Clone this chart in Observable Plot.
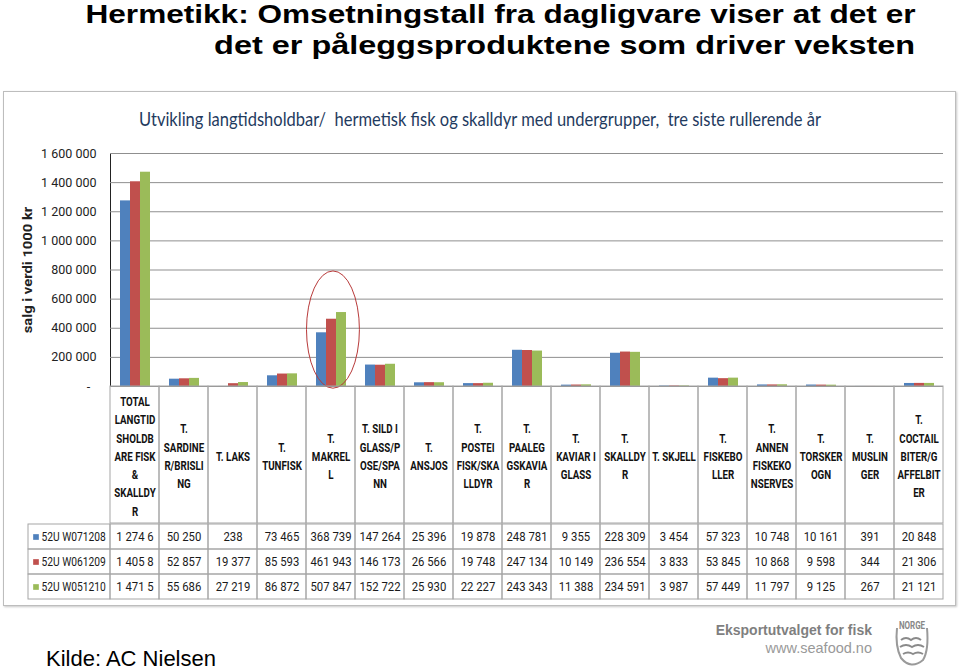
<!DOCTYPE html>
<html><head><meta charset="utf-8">
<script src="https://cdn.jsdelivr.net/npm/d3@7"></script>
<script src="https://cdn.jsdelivr.net/npm/@observablehq/plot@0.6"></script>
<style>
html,body{margin:0;padding:0;background:#fff}
body{width:959px;height:671px;position:relative;overflow:hidden;font-family:"Liberation Sans",Arial,sans-serif}
.tl{position:absolute;right:44px;font-weight:bold;font-size:26px;line-height:26px;color:#000;white-space:nowrap;transform-origin:100% 50%}
#frame{position:absolute;left:3px;top:91px;width:951px;height:513px;border:1px solid #bdbdbd;box-shadow:1px 1px 2px #c8c8c8}
#ctitle{position:absolute;left:139px;top:109px;font-family:Lato,Roboto,sans-serif;font-size:19px;line-height:19px;color:#1f3b60;white-space:nowrap;transform-origin:0 0}
#ylab{position:absolute;left:27px;top:270px;font-family:Roboto,sans-serif;font-weight:bold;font-size:13.5px;color:#222;white-space:nowrap}
.plt{position:absolute}
.plt svg{overflow:visible}
#source{position:absolute;left:46px;top:648px;font-size:22px;line-height:22px;color:#000}
#eks{position:absolute;right:87px;top:623px;font-size:14px;line-height:14px;font-weight:bold;color:#7f7f7f;white-space:nowrap}
#web{position:absolute;right:87px;top:641px;font-size:14.5px;line-height:14px;color:#999;white-space:nowrap}
#logo{position:absolute;left:891px;top:616px}
</style></head>
<body>
<div id="t1" class="tl" style="top:1px">Hermetikk: Omsetningstall fra dagligvare viser at det er</div>
<div id="t2" class="tl" style="top:32px">det er påleggsproduktene som driver veksten</div>
<div id="frame"></div>
<div id="ctitle">Utvikling langtidsholdbar/&nbsp; hermetisk fisk og skalldyr med undergrupper,&nbsp; tre siste rullerende år</div>
<div id="ylab">salg i verdi 1000 kr</div>
<div id="chartA" class="plt" style="left:0;top:140px"></div>
<div id="chartB" class="plt" style="left:0;top:386px"></div>
<div id="chartC" class="plt" style="left:0;top:523px"></div>
<div id="chartD" class="plt" style="left:28px;top:523px"></div>
<div id="source">Kilde: AC Nielsen</div>
<div id="eks">Eksportutvalget for fisk</div>
<div id="web">www.seafood.no</div>
<svg id="logo" width="40" height="54" viewBox="0 0 40 54">
  <path d="M6 12 Q4 30 10 42 Q20 54 32 44 Q38 34 36 12" fill="none" stroke="#9a9a9a" stroke-width="2"/>
  <path d="M10 24 q5 -4 10 0 q5 -4 10 0 M9 31 q6 -4 12 0 q6 -4 12 0 M12 38 q5 -3 10 0 q5 -3 10 0" fill="none" stroke="#8a8a8a" stroke-width="2"/>
  <text x="21" y="13" text-anchor="middle" font-family="Roboto, sans-serif" font-weight="bold" font-size="10" fill="#888" transform="translate(21 0) scale(0.8 1) translate(-21 0)">NORGE</text>
</svg>
<script>
// ---- data ----
const categories = [
  "TOTAL\nLANGTID\nSHOLDB\nARE FISK\n&\nSKALLDY\nR",
  "T.\nSARDINE\nR/BRISLI\nNG",
  "T. LAKS",
  "T.\nTUNFISK",
  "T.\nMAKREL\nL",
  "T. SILD I\nGLASS/P\nOSE/SPA\nNN",
  "T.\nANSJOS",
  "T.\nPOSTEI\nFISK/SKA\nLLDYR",
  "T.\nPAALEG\nGSKAVIA\nR",
  "T.\nKAVIAR I\nGLASS",
  "T.\nSKALLDY\nR",
  "T. SKJELL",
  "T.\nFISKEBO\nLLER",
  "T.\nANNEN\nFISKEKO\nNSERVES",
  "T.\nTORSKER\nOGN",
  "T.\nMUSLIN\nGER",
  "T.\nCOCTAIL\nBITER/G\nAFFELBIT\nER"
];
const series = ["52U W071208", "52U W061209", "52U W051210"];
const colors = ["#4F81BD", "#C0504D", "#9BBB59"];
const w071208 = [1274600, 50250, 238, 73465, 368739, 147264, 25396, 19878, 248781, 9355, 228309, 3454, 57323, 10748, 10161, 391, 20848];
const w061209 = [1405800, 52857, 19377, 85593, 461943, 146173, 26566, 19748, 247134, 10149, 236554, 3833, 53845, 10868, 9598, 344, 21306];
const w051210 = [1471500, 55686, 27219, 86872, 507847, 152722, 25930, 22227, 243343, 11388, 234591, 3987, 57449, 11797, 9125, 267, 21121];
const yTicks = [0, 200000, 400000, 600000, 800000, 1000000, 1200000, 1400000, 1600000];
const highlight = {category: categories[4], top: 790000, bottom: -15000};

// ---- build table ----
const seriesValues = [w071208, w061209, w051210];
const rows = [];
categories.forEach((c, i) => series.forEach((s, j) => rows.push({cat: c, series: s, value: seriesValues[j][i]})));

const loc = d3.formatLocale({decimal: ",", thousands: " ", grouping: [3], currency: ["", ""]});
const fmt = loc.format(",d");
// Excel clips text that is wider than the cell (7 characters fit)
const cellText = v => { const s = fmt(v); return s.length > 7 ? s.slice(0, 7) : s; };

const font = 'Roboto,"Liberation Sans",sans-serif';
const W = 959, ML = 110, MR = 16;

// condense text horizontally (the reference uses a narrow font)
function condense(svg, k) {
  d3.select(svg).selectAll("text").each(function () {
    const t = this.getAttribute("transform") || "";
    this.setAttribute("transform", t + ` scale(${k},1)`);
  });
}

// ---- chart A: grouped bars ----
const chartA = Plot.plot({
  width: W, height: 248,
  marginLeft: ML, marginRight: MR, marginTop: 13, marginBottom: 2,
  style: {background: "transparent", fontFamily: font, fontSize: "12.5px", color: "#222"},
  facet: {data: rows, x: "cat"},
  fx: {domain: categories, padding: 0, axis: null},
  x: {domain: series, paddingInner: 0, paddingOuter: 0.75, axis: null},
  y: {domain: [0, 1600000], ticks: yTicks, tickSize: 0, tickPadding: 14, label: null, line: true,
      tickFormat: d => d === 0 ? "-  " : fmt(d)},
  color: {domain: series, range: colors},
  marks: [
    Plot.ruleY(yTicks.slice(1), {stroke: "#8f8f8f", strokeWidth: 1}),
    Plot.barY(rows, {x: "series", y: "value", fill: "series"}),
    Plot.ruleY([0], {stroke: "#8f8f8f", strokeWidth: 1})
  ]
});
document.getElementById("chartA").appendChild(chartA);

// highlight ellipse drawn through the chart's own scales
(function () {
  let fxs, ys;
  try { fxs = chartA.scale("fx"); } catch (e) {}
  try { ys = chartA.scale("y"); } catch (e) {}
  const band = d3.scaleBand().domain(fxs && fxs.domain ? fxs.domain : categories)
    .range(fxs && fxs.range ? fxs.range : [ML, W - MR]).padding(0);
  const y = d3.scaleLinear().domain(ys ? ys.domain : [0, 1600000]).range(ys ? ys.range : [246, 13]);
  const bw = band.bandwidth();
  const cx = band(highlight.category) + bw * 0.55;
  const yt = y(highlight.top), yb = y(highlight.bottom);
  d3.select(chartA).append("ellipse")
    .attr("cx", cx).attr("cy", (yt + yb) / 2)
    .attr("rx", bw * 0.54).attr("ry", (yb - yt) / 2)
    .attr("fill", "none").attr("stroke", "#b83a3a").attr("stroke-width", 1);
})();

// ---- chart B: category label row ----
const chartB = Plot.plot({
  width: W, height: 137,
  marginLeft: ML, marginRight: MR, marginTop: 0, marginBottom: 0,
  style: {background: "transparent", fontFamily: font},
  x: {domain: categories, padding: 0, axis: null},
  marks: [
    Plot.cell(categories, {x: d => d, fill: "none", stroke: "#a6a6a6"}),
    Plot.text(categories, {x: d => d, text: d => d, fontWeight: "bold", fontSize: 12.5, lineHeight: 1.46, fill: "#111"})
  ]
});
condense(chartB, 0.78);
document.getElementById("chartB").appendChild(chartB);

// ---- chart C: data table ----
const chartC = Plot.plot({
  width: W, height: 77,
  marginLeft: ML, marginRight: MR, marginTop: 0, marginBottom: 0,
  style: {background: "transparent", fontFamily: font},
  x: {domain: categories, padding: 0, axis: null},
  y: {domain: series, padding: 0, axis: null},
  marks: [
    Plot.cell(rows, {x: "cat", y: "series", fill: "none", stroke: "#a6a6a6"}),
    Plot.text(rows, {x: "cat", y: "series", text: d => cellText(d.value), fontSize: 13.5, fill: "#1a1a1a"})
  ]
});
condense(chartC, 0.84);
document.getElementById("chartC").appendChild(chartC);

// ---- chart D: legend column of the table ----
const chartD = Plot.plot({
  width: 82, height: 77,
  marginLeft: 0, marginRight: 0, marginTop: 0, marginBottom: 0,
  style: {background: "transparent", fontFamily: font},
  y: {domain: series, padding: 0, axis: null},
  color: {domain: series, range: colors},
  marks: [
    Plot.cell(series, {y: d => d, fill: "none", stroke: "#a6a6a6"}),
    Plot.dot(series, {y: d => d, frameAnchor: "left", dx: 7.5, symbol: "square", r: 3.2, fill: d => d, stroke: "none"}),
    Plot.text(series, {y: d => d, frameAnchor: "left", dx: 13, textAnchor: "start", text: d => d, fontSize: 13.5, fill: "#1a1a1a"})
  ]
});
condense(chartD, 0.76);
document.getElementById("chartD").appendChild(chartD);

// fit titles to their widths in the reference
function fit(id, target, base) {
  const el = document.getElementById(id);
  const w = el.getBoundingClientRect().width;
  if (w > 0) el.style.transform = (base || "") + ` scaleX(${target / w})`;
}
fit("ctitle", 682);
fit("t1", 830);
fit("t2", 701);
(function () {
  const el = document.getElementById("ylab");
  const w = el.offsetWidth, h = el.offsetHeight;
  el.style.left = (27 - w / 2) + "px";
  el.style.top = (270 - h / 2) + "px";
  el.style.transform = `rotate(-90deg) scaleX(${127 / w})`;
})();
</script>
</body></html>
